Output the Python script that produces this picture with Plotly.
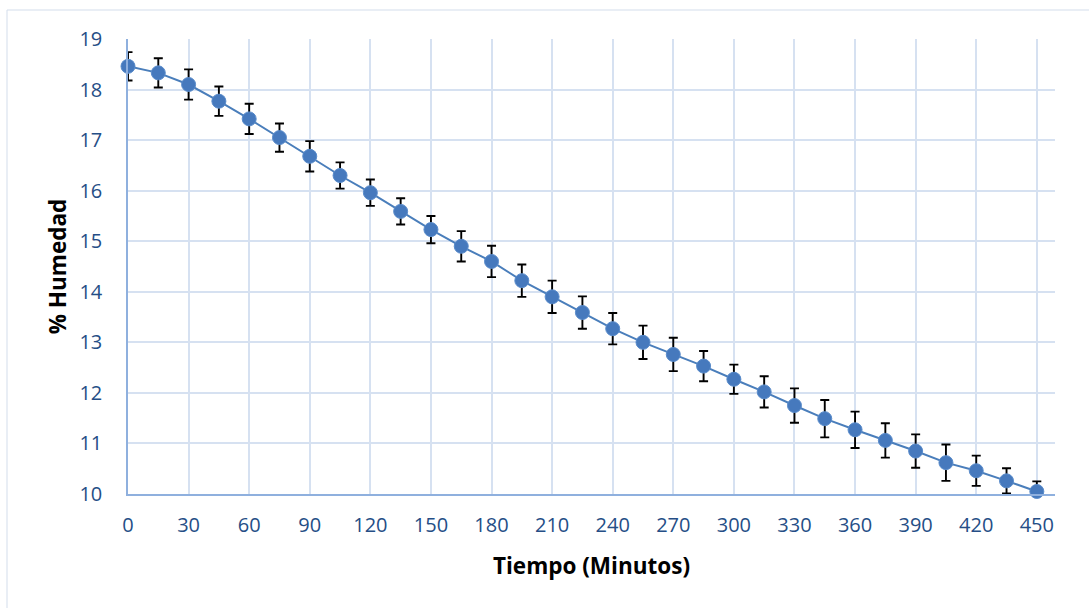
import plotly.graph_objects as go

# Drying curve: moisture content over time with standard-deviation bars
tiempo = [0, 15, 30, 45, 60, 75, 90, 105, 120, 135, 150, 165, 180, 195, 210, 225,
          240, 255, 270, 285, 300, 315, 330, 345, 360, 375, 390, 405, 420, 435, 450]
humedad = [18.46, 18.33, 18.10, 17.77, 17.42, 17.05, 16.68, 16.30, 15.96, 15.59,
           15.23, 14.90, 14.60, 14.22, 13.90, 13.59, 13.27, 13.00, 12.76, 12.53,
           12.27, 12.02, 11.75, 11.49, 11.27, 11.06, 10.85, 10.62, 10.46, 10.26, 10.05]
desviacion = [0.28, 0.29, 0.30, 0.29, 0.30, 0.28, 0.30, 0.26, 0.26, 0.26,
              0.27, 0.30, 0.31, 0.32, 0.32, 0.32, 0.31, 0.33, 0.33, 0.30,
              0.29, 0.31, 0.34, 0.37, 0.36, 0.34, 0.33, 0.36, 0.30, 0.25, 0.20]
x_ticks = list(range(0, 451, 30))
y_ticks = list(range(10, 20))

W, H = 1089, 608
L, R, T, B = 128, 34, 39, 114
pw, ph = W - L - R, H - T - B

tick_font = dict(family="Open Sans", size=20, color="#254E86")
title_font = dict(family="Open Sans", size=22.5, color="#000000")

fig = go.Figure()

# error bars (clipped to the plotting area)
fig.add_trace(go.Scatter(
    x=tiempo, y=humedad, mode="markers",
    marker=dict(size=1, color="rgba(0,0,0,0)"),
    error_y=dict(type="data", array=desviacion, visible=True,
                 color="#000000", thickness=1.9, width=4.5),
    cliponaxis=True, showlegend=False, hoverinfo="skip",
))

# line with markers
fig.add_trace(go.Scatter(
    x=tiempo, y=humedad, mode="lines+markers",
    line=dict(color="#4A7EBB", width=2),
    marker=dict(size=14, color="#4679BD", line=dict(color="#5A8CCB", width=1)),
    cliponaxis=False, showlegend=False,
))

# outer chart frame
fig.add_shape(type="rect", xref="paper", yref="paper",
              x0=(7 - L) / pw, x1=(W + 5 - L) / pw,
              y0=(H - B - (H + 5)) / ph, y1=(H - B - 10) / ph,
              line=dict(color="#D3DDEB", width=1), fillcolor="rgba(0,0,0,0)",
              layer="below")

fig.update_layout(
    width=W, height=H,
    margin=dict(l=L, r=R, t=T, b=B, pad=0),
    paper_bgcolor="#FFFFFF", plot_bgcolor="#FFFFFF",
    xaxis=dict(
        range=[0, 459], tickvals=x_ticks, ticktext=[str(v) for v in x_ticks],
        showgrid=True, gridcolor="#D6E1F1", gridwidth=1.5,
        showline=True, linecolor="#8FB0DE", linewidth=1.5,
        zeroline=False, ticks="", tickfont=tick_font, ticklabelstandoff=12,
        title=dict(text="<b>Tiempo (Minutos)</b>", font=title_font, standoff=21),
    ),
    yaxis=dict(
        range=[10, 19], tickvals=y_ticks, ticktext=[str(v) for v in y_ticks],
        showgrid=True, gridcolor="#D6E1F1", gridwidth=1.5,
        showline=True, linecolor="#8FB0DE", linewidth=1.5,
        zeroline=False, ticks="", tickfont=tick_font, ticklabelstandoff=20,
        title=dict(text="<b>% Humedad</b>", font=title_font, standoff=7),
    ),
)

fig.write_html("out.html")
